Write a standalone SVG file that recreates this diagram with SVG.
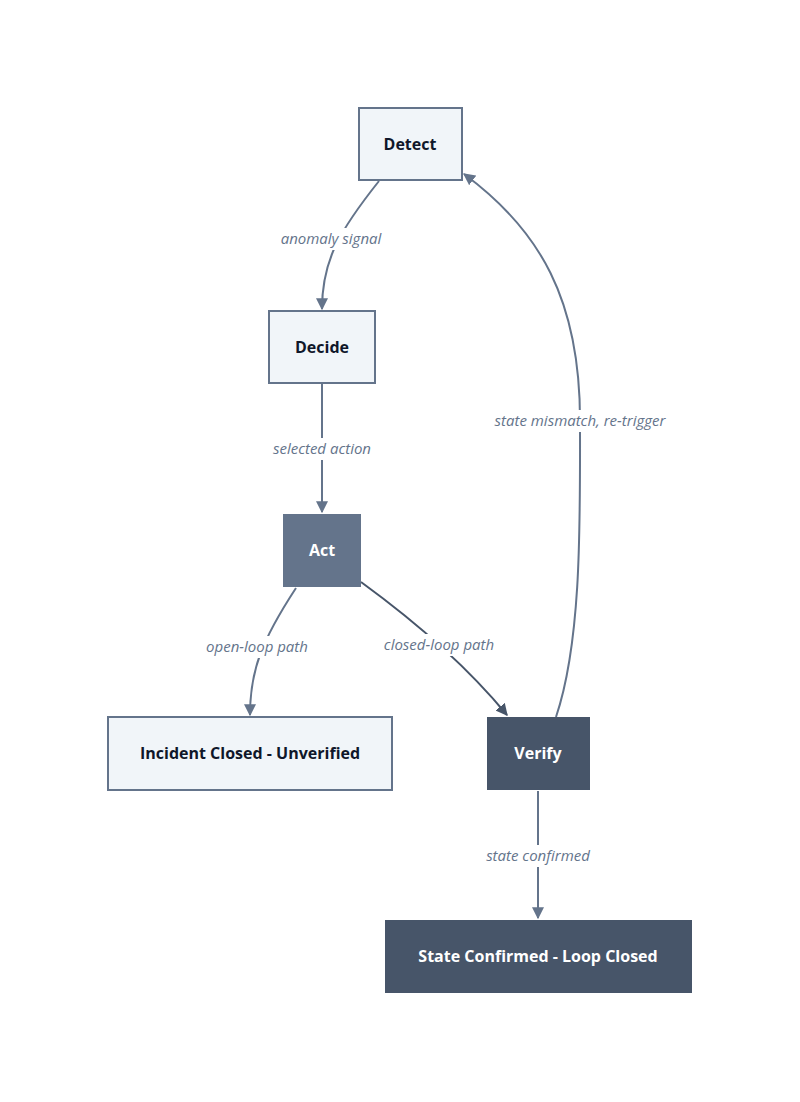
<svg xmlns="http://www.w3.org/2000/svg" width="800" height="1102" viewBox="0 0 800 1102">
<style>
.n rect{stroke-width:2}
.l{fill:#f1f5f9;stroke:#64748b}
.t{font-family:"Open Sans","Noto Sans",sans-serif;font-size:16px;font-weight:bold;text-anchor:middle;dominant-baseline:central}
.e path{fill:none;stroke:#64748b;stroke-width:2}
.lb{font-family:"Open Sans","Noto Sans",sans-serif;font-size:15px;font-style:italic;fill:#64748b;text-anchor:middle;dominant-baseline:central}
</style>
<defs>
<marker id="a" viewBox="0 0 10 10" refX="9" refY="5" markerWidth="6" markerHeight="6" orient="auto"><path d="M0,0L10,5L0,10z" fill="#64748b"/></marker>
<marker id="b" viewBox="0 0 10 10" refX="9" refY="5" markerWidth="6" markerHeight="6" orient="auto"><path d="M0,0L10,5L0,10z" fill="#475569"/></marker>
</defs>
<rect width="800" height="1102" fill="#fff"/>
<g class="e" id="connectors">
<path d="M379,181 C340,230 322,260 322,309" marker-end="url(#a)"/>
<path d="M322,384 L322,512" marker-end="url(#a)"/>
<path d="M296,588 C262,640 250,670 250,715" marker-end="url(#a)"/>
<path d="M361,582 C420,625 470,670 507,715" style="stroke:#475569" marker-end="url(#b)"/>
<path d="M556,717 C582,640 580,520 580,420 C580,300 540,230 464,174" marker-end="url(#a)"/>
<path d="M538,791 L538,918" marker-end="url(#a)"/>
<g>
<rect x="272" y="228" width="118" height="22" fill="#fff"/><text class="lb" x="331" y="238">anomaly signal</text>
<rect x="264" y="438" width="116" height="22" fill="#fff"/><text class="lb" x="322" y="448">selected action</text>
<rect x="197" y="636" width="120" height="22" fill="#fff"/><text class="lb" x="257" y="646">open-loop path</text>
<rect x="374" y="634" width="130" height="22" fill="#fff"/><text class="lb" x="439" y="644">closed-loop path</text>
<rect x="480" y="410" width="200" height="22" fill="#fff"/><text class="lb" x="580" y="420">state mismatch, re-trigger</text>
<rect x="477" y="845" width="122" height="22" fill="#fff"/><text class="lb" x="538" y="855">state confirmed</text>
</g>
</g>
<g class="n" id="detect"><rect class="l" x="359" y="108" width="103" height="72"/><text class="t" x="410" y="144" fill="#0f172a">Detect</text></g>
<g class="n" id="decide"><rect class="l" x="269" y="311" width="106" height="72"/><text class="t" x="322" y="347" fill="#0f172a">Decide</text></g>
<g class="n" id="act"><rect x="283" y="514" width="78" height="73" fill="#64748b"/><text class="t" x="322" y="550" fill="#fff">Act</text></g>
<g class="n" id="incident"><rect class="l" x="108" y="717" width="284" height="73"/><text class="t" x="250" y="753" fill="#0f172a">Incident Closed - Unverified</text></g>
<g class="n" id="verify"><rect x="487" y="717" width="103" height="73" fill="#475569"/><text class="t" x="538" y="753" fill="#fff">Verify</text></g>
<g class="n" id="confirmed"><rect x="385" y="920" width="307" height="73" fill="#475569"/><text class="t" x="538" y="956" fill="#fff">State Confirmed - Loop Closed</text></g>
</svg>
